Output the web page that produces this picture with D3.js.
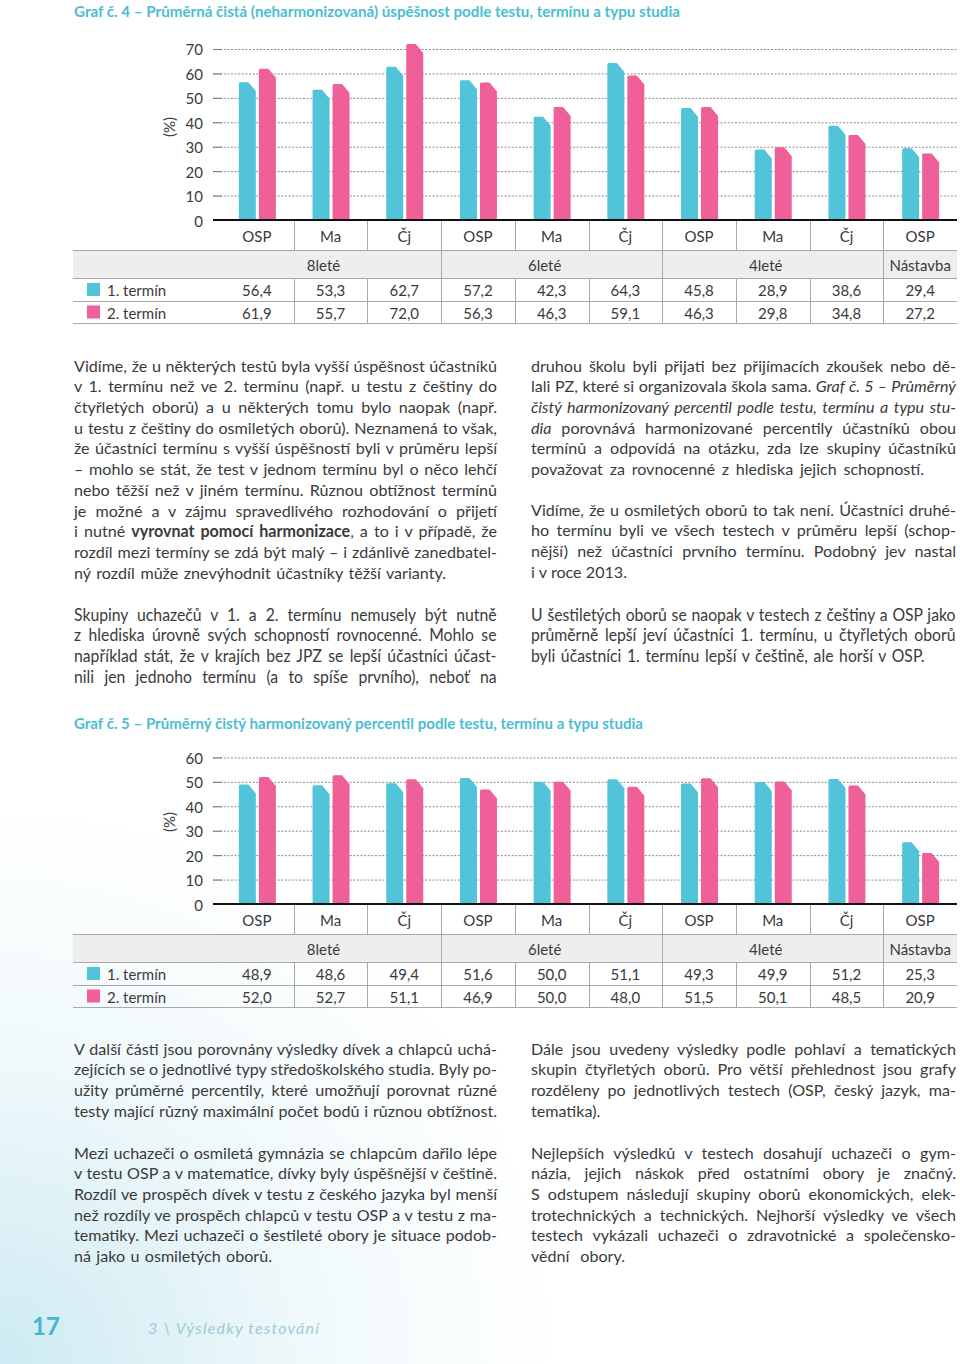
<!DOCTYPE html>
<html><head><meta charset="utf-8">
<script src="https://cdn.jsdelivr.net/npm/d3@7"></script>
<style>
html,body{margin:0;padding:0;background:#fff;}
svg{display:block;}
</style></head><body>
<script>
// ---------- DATA ----------
const categories = ["OSP","Ma","Čj","OSP","Ma","Čj","OSP","Ma","Čj","OSP"];
const groupNames = ["8leté","6leté","4leté","Nástavba"];
const groupSpans = [3,3,3,1];
const seriesNames = ["1. termín","2. termín"];
const graf4Termin1 = [56.4,53.3,62.7,57.2,42.3,64.3,45.8,28.9,38.6,29.4];
const graf4Termin2 = [61.9,55.7,72.0,56.3,46.3,59.1,46.3,29.8,34.8,27.2];
const graf4Ticks = [0,10,20,30,40,50,60,70];
const graf5Termin1 = [48.9,48.6,49.4,51.6,50.0,51.1,49.3,49.9,51.2,25.3];
const graf5Termin2 = [52.0,52.7,51.1,46.9,50.0,48.0,51.5,50.1,48.5,20.9];
const graf5Ticks = [0,10,20,30,40,50,60];
const graf4Title = "Graf č. 4 – Průměrná čistá (neharmonizovaná) úspěšnost podle testu, termínu a typu studia";
const graf5Title = "Graf č. 5 – Průměrný čistý harmonizovaný percentil podle testu, termínu a typu studia";

const COLORS = ["#52c4d9","#ef5f98"];
const TXT = "#3a3a3a";
const FONT = "Lato, 'Open Sans', sans-serif";

const W = 960, H = 1364;
const svg = d3.select("body").append("svg").attr("width",W).attr("height",H)
  .style("font-family",FONT);

// background tint (footer)
const defs = svg.append("defs");
const rg = defs.append("radialGradient").attr("id","bgTint")
  .attr("cx",0).attr("cy",H).attr("r",560).attr("gradientUnits","userSpaceOnUse");
rg.append("stop").attr("offset",0).attr("stop-color","#cdeaf2");
rg.append("stop").attr("offset",0.55).attr("stop-color","#f0f9fb");
rg.append("stop").attr("offset",1).attr("stop-color","#ffffff");
svg.append("rect").attr("width",W).attr("height",H).attr("fill","#fff");
svg.append("rect").attr("width",W).attr("height",H).attr("fill","url(#bgTint)");

// ---------- CHART ----------
function drawChart(cfg){
  const g = svg.append("g");
  const PX = 2.443;
  const yMax = d3.max(cfg.ticks);
  const y = d3.scaleLinear().domain([0,yMax]).range([cfg.y0, cfg.y0 - yMax*PX]);
  const x = d3.scaleBand().domain(d3.range(categories.length)).range([220,957]);
  const inner = d3.scaleBand().domain([0,1]).range([-18,19]).paddingInner(0.15);

  // title
  g.append("text").attr("x",74).attr("y",cfg.titleY)
    .attr("fill","#4cbdd2").attr("font-size",15).attr("font-weight",700)
    .attr("textLength",cfg.titleW).attr("lengthAdjust","spacingAndGlyphs")
    .text(cfg.title);

  // y axis with gridlines
  const ax = g.append("g").attr("transform",`translate(213,0)`)
    .call(d3.axisLeft(y).tickValues(cfg.ticks).tickSize(-744).tickPadding(10));
  ax.select(".domain").remove();
  ax.selectAll(".tick line").attr("stroke","#8a8a8a").attr("stroke-dasharray","2,1.6").attr("stroke-width",1);
  ax.selectAll(".tick").append("line").attr("x2",9).attr("stroke","#777").attr("stroke-width",1);
  ax.selectAll(".tick text").attr("fill",TXT).attr("font-size",15).attr("font-family",FONT).attr("dy","0.4em");

  g.append("text").attr("transform",`translate(175,${cfg.pctY}) rotate(-90)`)
    .attr("text-anchor","middle").attr("fill",TXT).attr("font-size",15).text("(%)");

  // bars
  const chamX = 7.5, chamY = 9, r = 1.5;
  function barPath(x0,w,yt,yb){
    return `M${x0},${yb}V${yt+r}Q${x0},${yt} ${x0+r},${yt}H${x0+w-chamX}L${x0+w},${yt+chamY}V${yb}Z`;
  }
  const series = [cfg.t1, cfg.t2];
  series.forEach((vals,si)=>{
    g.append("g").selectAll("path").data(vals).join("path")
      .attr("fill",COLORS[si])
      .attr("d",(v,i)=>{
        const cx = x(i) + x.bandwidth()/2;
        return barPath(cx + inner(si), inner.bandwidth(), y(v), y(0));
      });
  });

  // zero axis line
  g.append("line").attr("x1",213).attr("x2",957).attr("y1",y(0)).attr("y2",y(0))
    .attr("stroke","#111").attr("stroke-width",2);

  // category labels
  const bx = g.append("g").attr("transform",`translate(0,${y(0)})`)
    .call(d3.axisBottom(x).tickSize(0).tickPadding(11).tickFormat(i=>categories[i]));
  bx.select(".domain").remove();
  bx.selectAll(".tick text").attr("fill",TXT).attr("font-size",15).attr("font-family",FONT);

  // table
  const t0 = cfg.y0;
  const rowLab = [t0, t0+30], rowHead=[t0+30,t0+58], row1=[t0+58,t0+81], row2=[t0+81,t0+103];
  const grid = "#a9a9a9";
  g.append("rect").attr("x",73).attr("y",rowHead[0]).attr("width",957-73).attr("height",rowHead[1]-rowHead[0]).attr("fill","#eeeeee");
  [rowHead[0], rowHead[1], row1[1], row2[1]].forEach(yy=>{
    g.append("line").attr("x1",73).attr("x2",957).attr("y1",yy+0.5).attr("y2",yy+0.5).attr("stroke",grid).attr("stroke-width",1);
  });
  for(let i=1;i<categories.length;i++){
    const xx = Math.round(x(i))+0.5;
    g.append("line").attr("x1",xx).attr("x2",xx).attr("y1",rowLab[0]+1).attr("y2",rowLab[1]).attr("stroke",grid);
    g.append("line").attr("x1",xx).attr("x2",xx).attr("y1",row1[0]).attr("y2",row2[1]).attr("stroke",grid);
  }
  let start = 0;
  groupNames.forEach((nm,gi)=>{
    const a = x(start), b = x(start+groupSpans[gi]-1)+x.bandwidth();
    if(start>0){
      const xx = Math.round(a)+0.5;
      g.append("line").attr("x1",xx).attr("x2",xx).attr("y1",rowHead[0]).attr("y2",rowHead[1]).attr("stroke",grid);
    }
    const off = groupSpans[gi]>1 ? -7 : 0;
    g.append("text").attr("x",(a+b)/2+off).attr("y",(rowHead[0]+rowHead[1])/2+6.5)
      .attr("text-anchor","middle").attr("fill",TXT).attr("font-size",15).text(nm);
    start += groupSpans[gi];
  });
  const fmt = v => d3.format(".1f")(v).replace(".",",");
  [row1,row2].forEach((rw,si)=>{
    const cy = (rw[0]+rw[1])/2;
    g.append("rect").attr("x",87).attr("y",cy-6.5).attr("width",13).attr("height",13).attr("fill",COLORS[si]);
    g.append("text").attr("x",107).attr("y",cy+6.5).attr("fill",TXT).attr("font-size",15).text(seriesNames[si]);
    g.append("g").selectAll("text").data(series[si]).join("text")
      .attr("x",(v,i)=>x(i)+x.bandwidth()/2).attr("y",cy+6.5)
      .attr("text-anchor","middle").attr("fill",TXT).attr("font-size",15).text(fmt);
  });
}

drawChart({y0:220, ticks:graf4Ticks, t1:graf4Termin1, t2:graf4Termin2, title:graf4Title, titleY:17, titleW:606, pctY:127});
drawChart({y0:904, ticks:graf5Ticks, t1:graf5Termin1, t2:graf5Termin2, title:graf5Title, titleY:729, titleW:569, pctY:822});

// ---------- BODY TEXT ----------
const LH = 20.7;
const paragraphs = [
  {x:74, w:423, y:366, last:446, lines:[
    "Vidíme, že u některých testů byla vyšší úspěšnost účastníků",
    "v 1. termínu než ve 2. termínu (např. u testu z češtiny do",
    "čtyřletých oborů) a u některých tomu bylo naopak (např.",
    "u testu z češtiny do osmiletých oborů). Neznamená to však,",
    "že účastníci termínu s vyšší úspěšností byli v průměru lepší",
    "– mohlo se stát, že test v jednom termínu byl o něco lehčí",
    "nebo těžší než v jiném termínu. Různou obtížnost termínů",
    "je možné a v zájmu spravedlivého rozhodování o přijetí",
    "i nutné [b]vyrovnat pomocí harmonizace[/b], a to i v případě, že",
    "rozdíl mezi termíny se zdá být malý – i zdánlivě zanedbatel-",
    "ný rozdíl může znevýhodnit účastníky těžší varianty."]},
  {x:74, w:423, y:615, last:497, cond:true, lines:[
    "Skupiny uchazečů v 1. a 2. termínu nemusely být nutně",
    "z hlediska úrovně svých schopností rovnocenné. Mohlo se",
    "například stát, že v krajích bez JPZ se lepší účastníci účast-",
    "nili jen jednoho termínu (a to spíše prvního), neboť na"]},
  {x:531, w:425, y:366, last:924, lines:[
    "druhou školu byli přijati bez přijímacích zkoušek nebo dě-",
    "lali PZ, které si organizovala škola sama. [i]Graf č. 5 – Průměrný[/i]",
    "[i]čistý harmonizovaný percentil podle testu, termínu a typu stu-[/i]",
    "[i]dia[/i] porovnává harmonizované percentily účastníků obou",
    "termínů a odpovídá na otázku, zda lze skupiny účastníků",
    "považovat za rovnocenné z hlediska jejich schopností."]},
  {x:531, w:425, y:510, last:627, lines:[
    "Vidíme, že u osmiletých oborů to tak není. Účastníci druhé-",
    "ho termínu byli ve všech testech v průměru lepší (schop-",
    "nější) než účastníci prvního termínu. Podobný jev nastal",
    "i v roce 2013."]},
  {x:531, w:425, y:615, last:925, cond:true, lines:[
    "U šestiletých oborů se naopak v testech z češtiny a OSP jako",
    "průměrně lepší jeví účastníci 1. termínu, u čtyřletých oborů",
    "byli účastníci 1. termínu lepší v češtině, ale horší v OSP."]},
  {x:74, w:423, y:1049, last:497, lines:[
    "V další části jsou porovnány výsledky dívek a chlapců uchá-",
    "zejících se o jednotlivé typy středoškolského studia. Byly po-",
    "užity průměrné percentily, které umožňují porovnat různé",
    "testy mající různý maximální počet bodů i různou obtížnost."]},
  {x:74, w:423, y:1153, last:272, lines:[
    "Mezi uchazeči o osmiletá gymnázia se chlapcům dařilo lépe",
    "v testu OSP a v matematice, dívky byly úspěšnější v češtině.",
    "Rozdíl ve prospěch dívek v testu z českého jazyka byl menší",
    "než rozdíly ve prospěch chlapců v testu OSP a v testu z ma-",
    "tematiky. Mezi uchazeči o šestileté obory je situace podob-",
    "ná jako u osmiletých oborů."]},
  {x:531, w:425, y:1049, last:605, lines:[
    "Dále jsou uvedeny výsledky podle pohlaví a tematických",
    "skupin čtyřletých oborů. Pro větší přehlednost jsou grafy",
    "rozděleny po jednotlivých testech (OSP, český jazyk, ma-",
    "tematika)."]},
  {x:531, w:425, y:1153, last:625, lines:[
    "Nejlepších výsledků v testech dosahují uchazeči o gym-",
    "názia, jejich náskok před ostatními obory je značný.",
    "S odstupem následují skupiny oborů ekonomických, elek-",
    "trotechnických a technických. Nejhorší výsledky ve všech",
    "testech vykázali uchazeči o zdravotnické a společensko-",
    "vědní obory."]}
];

function parseLine(s){
  const parts = s.split(/(\[i\]|\[\/i\]|\[b\]|\[\/b\])/);
  let it=false, bd=false; const out=[];
  parts.forEach(p=>{
    if(p==="[i]") it=true; else if(p==="[/i]") it=false;
    else if(p==="[b]") bd=true; else if(p==="[/b]") bd=false;
    else if(p.length) out.push({t:p,it,bd});
  });
  return out;
}

const bodyG = svg.append("g").attr("fill",TXT);
paragraphs.forEach(p=>{
  const fs = p.cond ? 17.5 : 16.1;
  const baseSx = p.cond ? 0.9 : 1;
  p.lines.forEach((ln,li)=>{
    const isLast = li===p.lines.length-1;
    const target = (isLast ? (p.last - p.x) : p.w) / baseSx;
    const yy = p.y + li*LH + 5.6;
    const gg = bodyG.append("g");
    const t = gg.append("text").attr("x",0).attr("y",0).attr("font-size",fs).attr("xml:space","preserve");
    parseLine(ln).forEach(sg=>{
      t.append("tspan").text(sg.t)
        .attr("font-style",sg.it?"italic":null)
        .attr("font-weight",sg.bd?700:null);
    });
    const nat = t.node().getComputedTextLength();
    const spaces = (ln.replace(/\[\/?[ib]\]/g,"").match(/ /g)||[]).length;
    let sx = baseSx;
    if(nat > target){
      sx = baseSx*target/nat;
    } else if(spaces>0){
      t.attr("word-spacing",(target-nat)/spaces);
    }
    gg.attr("transform",`translate(${p.x},${yy}) scale(${sx},1)`);
  });
});

// ---------- FOOTER ----------
svg.append("text").attr("x",32).attr("y",1335).attr("fill","#45b6cd")
  .attr("font-size",24).attr("font-weight",700).text("17");
svg.append("text").attr("x",148).attr("y",1334).attr("fill","#9fcad6")
  .attr("font-size",16).attr("font-style","italic").attr("letter-spacing",1.2)
  .text("3 \\ Výsledky testování");
</script>
</body></html>
